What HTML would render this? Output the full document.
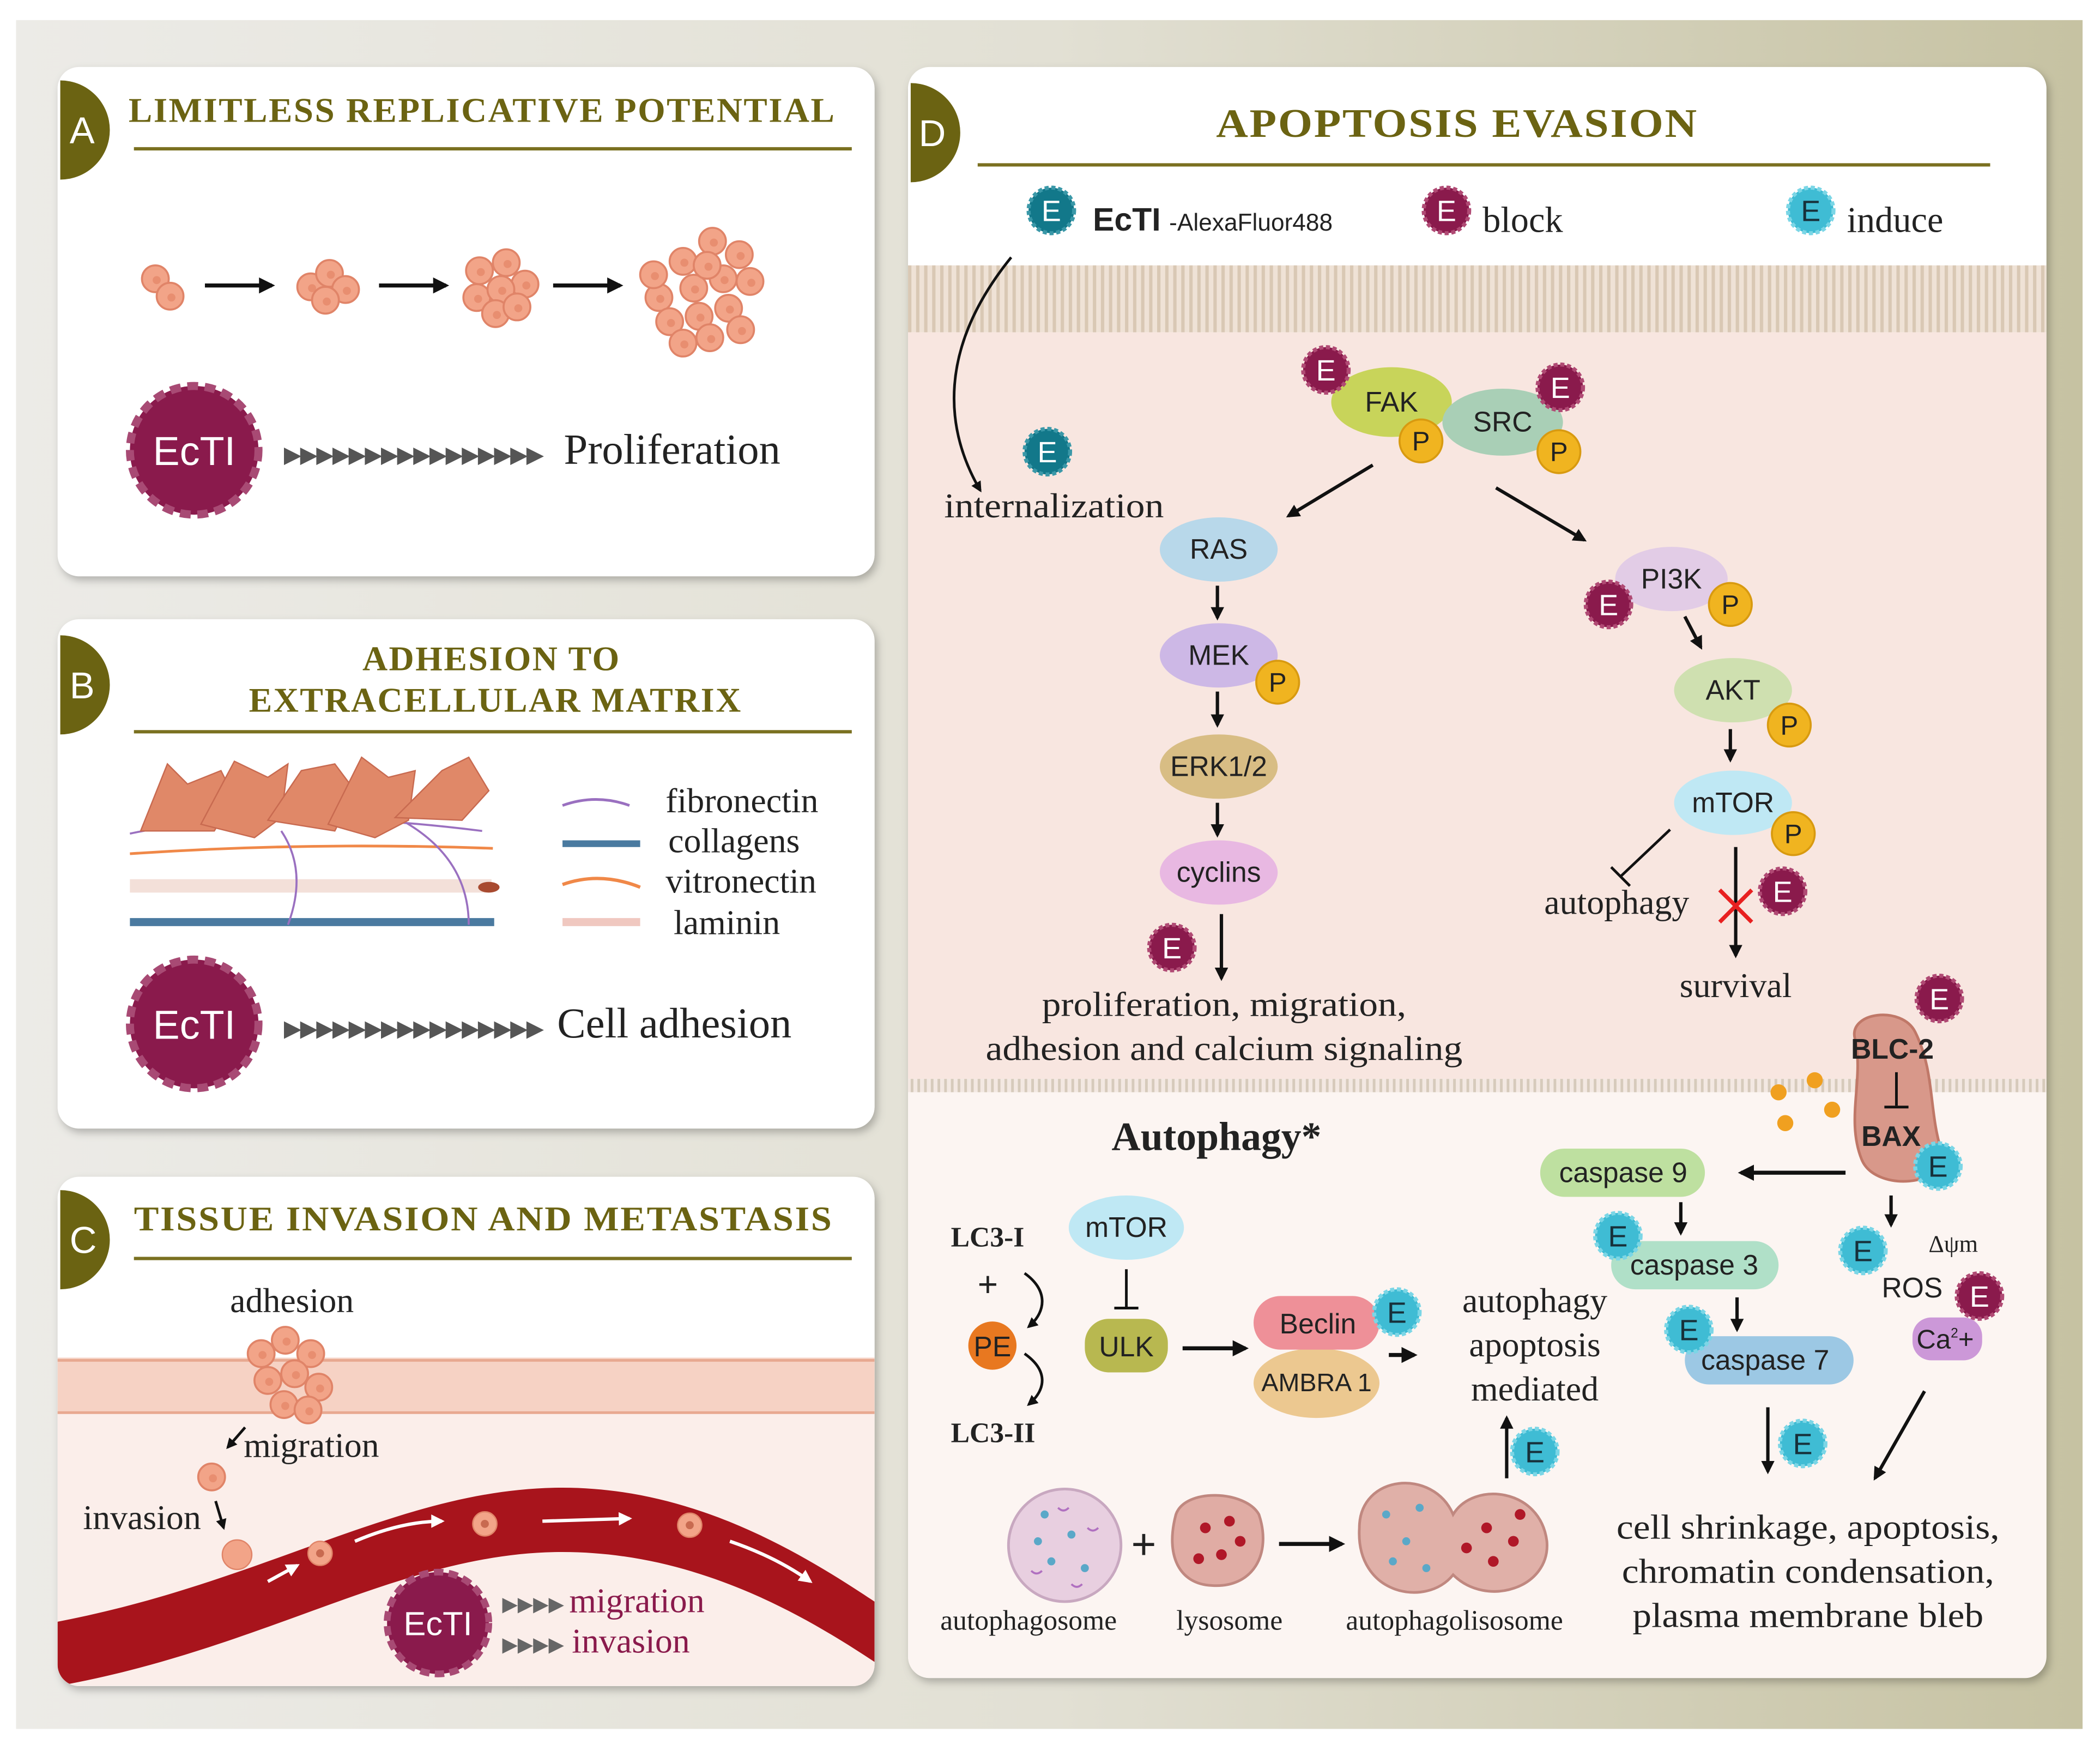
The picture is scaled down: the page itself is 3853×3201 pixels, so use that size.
<!DOCTYPE html>
<html><head><meta charset="utf-8"><style>
html,body{margin:0;padding:0;background:#fff;}
svg{display:block;}
.s{font-family:"Liberation Serif",serif;fill:#222;}
.a{font-family:"Liberation Sans",sans-serif;fill:#222;}
.t{font-family:"Liberation Serif",serif;font-weight:bold;fill:#6b6312;letter-spacing:1px;}
.eb{font-family:"Liberation Sans",sans-serif;fill:#fff;font-size:22px;text-anchor:middle;}
</style></head><body>
<svg width="3853" height="3201" viewBox="0 0 1568 1302" preserveAspectRatio="none" xmlns="http://www.w3.org/2000/svg">
<defs>
<linearGradient id="bg" x1="0" x2="1" y1="0" y2="0"><stop offset="0" stop-color="#ecebe7"/><stop offset="0.5" stop-color="#e2e0d4"/><stop offset="1" stop-color="#c6c2a2"/></linearGradient>
<filter id="sh" x="-5%" y="-5%" width="110%" height="110%"><feDropShadow dx="2" dy="3" stdDeviation="3" flood-color="#000" flood-opacity="0.25"/></filter>
<pattern id="stripe" width="6" height="50" patternUnits="userSpaceOnUse"><rect width="6" height="50" fill="#efe2d6"/><rect width="2.5" height="50" fill="#d9c8b4"/></pattern>
<pattern id="dots" width="5" height="10" patternUnits="userSpaceOnUse"><rect width="5" height="10" fill="#f3e8e2"/><rect width="2" height="10" fill="#d6cabb"/></pattern>
<g id="Eb"><circle r="17" fill="#8a1a4c" stroke="#b04a74" stroke-width="3" stroke-dasharray="3 2"/><text y="8" class="eb">E</text></g>
<g id="Ei"><circle r="17" fill="#3fbcd4" stroke="#7bd6e6" stroke-width="3" stroke-dasharray="3 2"/><text y="8" class="eb" style="fill:#17303a">E</text></g>
<g id="Et"><circle r="17" fill="#12788a" stroke="#3a98a8" stroke-width="3" stroke-dasharray="3 2"/><text y="8" class="eb">E</text></g>
<g id="P"><circle r="16" fill="#f0b420" stroke="#d89a10" stroke-width="1.5"/><text y="7" class="a" text-anchor="middle" font-size="20">P</text></g>
<g id="cell"><circle r="10" fill="#f2a488" stroke="#e08468" stroke-width="1.5"/><circle r="3" cx="1" cy="1" fill="#e88e70"/></g>
<g id="ecti"><circle r="48" fill="#8a1a4c" stroke="#a84a74" stroke-width="6" stroke-dasharray="8 5"/><text y="11" class="a" text-anchor="middle" font-size="30" style="fill:#fff">EcTI</text></g>
<g id="ecti2"><circle r="38" fill="#8a1a4c" stroke="#a84a74" stroke-width="5" stroke-dasharray="7 4"/><text y="9" class="a" text-anchor="middle" font-size="25" style="fill:#fff">EcTI</text></g>
<marker id="ar" viewBox="0 0 10 10" refX="8" refY="5" markerWidth="4" markerHeight="4" orient="auto"><path d="M0,0 L10,5 L0,10 z" fill="#111"/></marker>
<marker id="arw" viewBox="0 0 10 10" refX="8" refY="5" markerWidth="4" markerHeight="4" orient="auto"><path d="M0,0 L10,5 L0,10 z" fill="#fff"/></marker>
</defs>
<rect width="1568" height="1302" fill="#fff"/>
<rect x="12" y="15" width="1543" height="1275" fill="url(#bg)"/>

<!-- Panel A -->
<rect x="43" y="50" width="610" height="380" rx="16" fill="#fff" filter="url(#sh)"/>
<path d="M45,60 A37,37 0 0 1 45,134 Z" fill="#6b6312"/>
<text x="52" y="107" class="a" font-size="28" style="fill:#fff">A</text>
<text x="96" y="91" class="t" font-size="26" textLength="528" lengthAdjust="spacingAndGlyphs">LIMITLESS REPLICATIVE POTENTIAL</text>
<line x1="100" y1="111" x2="636" y2="111" stroke="#7a7020" stroke-width="2.5"/>
<use href="#cell" x="116" y="208"/><use href="#cell" x="127" y="221"/>
<line x1="153" y1="213" x2="203" y2="213" stroke="#111" stroke-width="3" marker-end="url(#ar)"/>
<use href="#cell" x="232" y="214"/><use href="#cell" x="246" y="204"/><use href="#cell" x="258" y="216"/><use href="#cell" x="243" y="224"/>
<line x1="283" y1="213" x2="333" y2="213" stroke="#111" stroke-width="3" marker-end="url(#ar)"/>
<g><use href="#cell" x="358" y="202"/><use href="#cell" x="378" y="196"/><use href="#cell" x="392" y="212"/><use href="#cell" x="356" y="222"/><use href="#cell" x="374" y="216"/><use href="#cell" x="370" y="234"/><use href="#cell" x="386" y="229"/></g>
<line x1="413" y1="213" x2="463" y2="213" stroke="#111" stroke-width="3" marker-end="url(#ar)"/>
<g><use href="#cell" x="492" y="222"/><use href="#cell" x="510" y="195"/><use href="#cell" x="532" y="180"/><use href="#cell" x="552" y="190"/><use href="#cell" x="560" y="210"/><use href="#cell" x="540" y="208"/><use href="#cell" x="518" y="215"/><use href="#cell" x="500" y="240"/><use href="#cell" x="522" y="236"/><use href="#cell" x="544" y="230"/><use href="#cell" x="530" y="252"/><use href="#cell" x="510" y="256"/><use href="#cell" x="553" y="246"/><use href="#cell" x="488" y="205"/><use href="#cell" x="528" y="198"/></g>
<use href="#ecti" x="145" y="336"/>
<text x="212" y="345" class="a" font-size="17" style="fill:#555;letter-spacing:-1px">▶▶▶▶▶▶▶▶▶▶▶▶▶▶▶▶</text>
<text x="421" y="346" class="s" font-size="32">Proliferation</text>

<!-- Panel B -->
<rect x="43" y="462" width="610" height="380" rx="16" fill="#fff" filter="url(#sh)"/>
<path d="M45,474 A37,37 0 0 1 45,548 Z" fill="#6b6312"/>
<text x="52" y="521" class="a" font-size="28" style="fill:#fff">B</text>
<text x="367" y="500" class="t" font-size="26" text-anchor="middle">ADHESION TO</text>
<text x="370" y="531" class="t" font-size="26" text-anchor="middle">EXTRACELLULAR MATRIX</text>
<line x1="100" y1="546" x2="636" y2="546" stroke="#7a7020" stroke-width="2.5"/>
<rect x="97" y="685" width="272" height="6" fill="#4a7aa0"/>
<rect x="97" y="656" width="270" height="10" fill="#f0d8d0" opacity="0.8"/>
<path d="M97,637 Q230,628 368,633" stroke="#f08848" stroke-width="2" fill="none"/>
<path d="M97,622 Q200,600 360,620 M210,620 Q230,650 215,690 M300,612 Q350,640 350,690" stroke="#9a70c0" stroke-width="1.5" fill="none"/>
<ellipse cx="365" cy="662" rx="8" ry="4" fill="#a84a30"/>
<g fill="#e08868" stroke="#c86a50" stroke-width="1">
<path d="M105,620 L125,570 L140,585 L165,575 L175,595 L160,620 Z"/>
<path d="M150,615 L175,568 L200,580 L215,570 L210,610 L190,625 Z"/>
<path d="M200,612 L225,575 L250,570 L265,590 L250,620 Z"/>
<path d="M245,615 L270,565 L290,580 L310,575 L305,612 L280,625 Z"/>
<path d="M295,610 L330,575 L350,565 L365,590 L345,612 Z"/>
</g>
<path d="M420,601 Q445,592 470,601" stroke="#9a70c0" stroke-width="2" fill="none"/>
<rect x="420" y="627" width="58" height="5" fill="#4a7aa0"/>
<path d="M420,660 Q448,650 478,662" stroke="#f08848" stroke-width="2.5" fill="none"/>
<rect x="420" y="685" width="58" height="6" fill="#f0c8c0"/>
<text x="497" y="606" class="s" font-size="26">fibronectin</text>
<text x="499" y="636" class="s" font-size="26">collagens</text>
<text x="497" y="666" class="s" font-size="26">vitronectin</text>
<text x="503" y="697" class="s" font-size="26">laminin</text>
<use href="#ecti" x="145" y="764"/>
<text x="212" y="773" class="a" font-size="17" style="fill:#555;letter-spacing:-1px">▶▶▶▶▶▶▶▶▶▶▶▶▶▶▶▶</text>
<text x="416" y="774" class="s" font-size="32">Cell adhesion</text>

<!-- Panel C -->
<clipPath id="cc"><rect x="43" y="878" width="610" height="380" rx="16"/></clipPath>
<rect x="43" y="878" width="610" height="380" rx="16" fill="#fff" filter="url(#sh)"/>
<g clip-path="url(#cc)">
<rect x="43" y="1013" width="610" height="245" fill="#fbeeea"/>
<rect x="43" y="1013" width="610" height="42" fill="#f6d2c4"/>
<line x1="43" y1="1015" x2="653" y2="1015" stroke="#e8a890" stroke-width="2"/>
<line x1="43" y1="1054" x2="653" y2="1054" stroke="#e8a890" stroke-width="2"/>
<path d="M43,1210 C200,1180 300,1110 420,1110 C520,1110 600,1160 653,1195 L653,1240 C600,1205 520,1158 420,1158 C300,1158 200,1230 43,1258 Z" fill="#a8141c"/>
</g>
<path d="M45,888 A37,37 0 0 1 45,962 Z" fill="#6b6312"/>
<text x="52" y="935" class="a" font-size="28" style="fill:#fff">C</text>
<text x="100" y="918" class="t" font-size="26" textLength="522" lengthAdjust="spacingAndGlyphs">TISSUE INVASION AND METASTASIS</text>
<line x1="100" y1="939" x2="636" y2="939" stroke="#7a7020" stroke-width="2.5"/>
<text x="218" y="979" class="s" font-size="26" text-anchor="middle">adhesion</text>
<g><use href="#cell" x="195" y="1010"/><use href="#cell" x="213" y="1000"/><use href="#cell" x="232" y="1010"/><use href="#cell" x="200" y="1030"/><use href="#cell" x="220" y="1025"/><use href="#cell" x="238" y="1035"/><use href="#cell" x="212" y="1048"/><use href="#cell" x="230" y="1052"/></g>
<path d="M183,1065 L170,1080" stroke="#111" stroke-width="2" marker-end="url(#ar)"/>
<text x="182" y="1087" class="s" font-size="26">migration</text>
<use href="#cell" x="158" y="1102"/>
<text x="62" y="1141" class="s" font-size="26">invasion</text>
<path d="M161,1120 L167,1140" stroke="#111" stroke-width="2" marker-end="url(#ar)"/>
<circle cx="177" cy="1160" r="11" fill="#f2a488" stroke="#e08468"/>
<g fill="#f2a488" stroke="#e08468"><circle cx="239" cy="1159" r="9"/><circle cx="362" cy="1137" r="9"/><circle cx="515" cy="1138" r="9"/></g>
<g fill="#c86a50"><circle cx="239" cy="1159" r="3"/><circle cx="362" cy="1137" r="3"/><circle cx="515" cy="1138" r="3"/></g>
<g stroke="#fff" stroke-width="2.5" fill="none" marker-end="url(#arw)">
<path d="M200,1180 L222,1168"/><path d="M265,1150 Q300,1135 330,1135"/><path d="M405,1135 L470,1133"/><path d="M545,1150 Q580,1162 605,1180"/></g>
<use href="#ecti2" x="327" y="1211"/>
<text x="375" y="1202" class="a" font-size="15" style="fill:#666">▶▶▶▶</text>
<text x="375" y="1232" class="a" font-size="15" style="fill:#666">▶▶▶▶</text>
<text x="425" y="1203" class="s" font-size="26" style="fill:#8a1a4c">migration</text>
<text x="427" y="1233" class="s" font-size="26" style="fill:#8a1a4c">invasion</text>

<!-- Panel D -->
<clipPath id="dc"><rect x="678" y="50" width="850" height="1202" rx="16"/></clipPath>
<rect x="678" y="50" width="850" height="1202" rx="16" fill="#fff" filter="url(#sh)"/>
<g clip-path="url(#dc)">
<rect x="678" y="198" width="850" height="50" fill="url(#stripe)"/>
<rect x="678" y="248" width="850" height="557" fill="#f8e6e0"/>
<rect x="678" y="805" width="850" height="10" fill="url(#dots)"/>
<rect x="678" y="815" width="850" height="437" fill="#fcf5f2"/>
</g>
<path d="M680,62 A37,37 0 0 1 680,136 Z" fill="#6b6312"/>
<text x="686" y="109" class="a" font-size="28" style="fill:#fff">D</text>
<text x="908" y="102" class="t" font-size="30" textLength="360" lengthAdjust="spacingAndGlyphs">APOPTOSIS  EVASION</text>
<line x1="730" y1="123" x2="1486" y2="123" stroke="#7a7020" stroke-width="2.5"/>
<use href="#Et" x="785" y="157"/>
<text x="816" y="172" class="a" font-size="24" font-weight="bold">EcTI</text><text x="873" y="172" class="a" font-size="18">-AlexaFluor488</text>
<use href="#Eb" x="1080" y="157"/><text x="1107" y="173" class="s" font-size="27">block</text>
<use href="#Ei" x="1352" y="157"/><text x="1379" y="173" class="s" font-size="27">induce</text>
<path d="M755,192 C700,260 705,320 732,366" stroke="#111" stroke-width="2" fill="none" marker-end="url(#ar)"/>
<use href="#Et" x="782" y="337"/>
<text x="705" y="386" class="s" font-size="26" textLength="164" lengthAdjust="spacingAndGlyphs">internalization</text>

<!-- FAK/SRC -->
<ellipse cx="1039" cy="300" rx="45" ry="26" fill="#c8d45a"/><text x="1039" y="307" class="a" font-size="21" text-anchor="middle">FAK</text>
<ellipse cx="1122" cy="315" rx="45" ry="25" fill="#a9cfb6"/><text x="1122" y="322" class="a" font-size="21" text-anchor="middle">SRC</text>
<use href="#P" x="1061" y="329"/><use href="#P" x="1164" y="337"/>
<use href="#Eb" x="990" y="276"/><use href="#Eb" x="1165" y="289"/>
<line x1="1025" y1="347" x2="962" y2="385" stroke="#111" stroke-width="2.5" marker-end="url(#ar)"/>
<line x1="1117" y1="364" x2="1183" y2="403" stroke="#111" stroke-width="2.5" marker-end="url(#ar)"/>
<!-- left chain -->
<ellipse cx="910" cy="410" rx="44" ry="24" fill="#b8d8ea"/><text x="910" y="417" class="a" font-size="21" text-anchor="middle">RAS</text>
<line x1="909" y1="437" x2="909" y2="461" stroke="#111" stroke-width="2.5" marker-end="url(#ar)"/>
<ellipse cx="910" cy="489" rx="44" ry="24" fill="#cdb8e6"/><text x="910" y="496" class="a" font-size="21" text-anchor="middle">MEK</text>
<use href="#P" x="954" y="509"/>
<line x1="909" y1="516" x2="909" y2="541" stroke="#111" stroke-width="2.5" marker-end="url(#ar)"/>
<ellipse cx="910" cy="572" rx="44" ry="24" fill="#d8bd84"/><text x="910" y="579" class="a" font-size="21" text-anchor="middle">ERK1/2</text>
<line x1="909" y1="599" x2="909" y2="623" stroke="#111" stroke-width="2.5" marker-end="url(#ar)"/>
<ellipse cx="910" cy="651" rx="44" ry="24" fill="#e8b8e2"/><text x="910" y="658" class="a" font-size="21" text-anchor="middle">cyclins</text>
<line x1="912" y1="682" x2="912" y2="730" stroke="#111" stroke-width="2.5" marker-end="url(#ar)"/>
<use href="#Eb" x="875" y="707"/>
<text x="914" y="758" class="s" font-size="26" text-anchor="middle" textLength="272" lengthAdjust="spacingAndGlyphs">proliferation, migration,</text>
<text x="914" y="791" class="s" font-size="26" text-anchor="middle" textLength="356" lengthAdjust="spacingAndGlyphs">adhesion and calcium signaling</text>
<!-- right chain -->
<ellipse cx="1248" cy="432" rx="42" ry="24" fill="#e2cce6"/><text x="1248" y="439" class="a" font-size="21" text-anchor="middle">PI3K</text>
<use href="#P" x="1292" y="451"/><use href="#Eb" x="1201" y="451"/>
<line x1="1258" y1="460" x2="1270" y2="483" stroke="#111" stroke-width="2.5" marker-end="url(#ar)"/>
<ellipse cx="1294" cy="515" rx="44" ry="24" fill="#cfe0b0"/><text x="1294" y="522" class="a" font-size="21" text-anchor="middle">AKT</text>
<use href="#P" x="1336" y="541"/>
<line x1="1292" y1="544" x2="1292" y2="567" stroke="#111" stroke-width="2.5" marker-end="url(#ar)"/>
<ellipse cx="1294" cy="599" rx="44" ry="24" fill="#bfe8f4"/><text x="1294" y="606" class="a" font-size="21" text-anchor="middle">mTOR</text>
<use href="#P" x="1339" y="622"/>
<line x1="1247" y1="619" x2="1210" y2="654" stroke="#111" stroke-width="2"/>
<line x1="1203" y1="647" x2="1217" y2="661" stroke="#111" stroke-width="2"/>
<text x="1153" y="682" class="s" font-size="26">autophagy</text>
<line x1="1296" y1="632" x2="1296" y2="713" stroke="#111" stroke-width="2.5" marker-end="url(#ar)"/>
<path d="M1284,664 L1308,688 M1308,664 L1284,688" stroke="#e82020" stroke-width="3"/>
<use href="#Eb" x="1331" y="665"/>
<text x="1296" y="744" class="s" font-size="26" text-anchor="middle">survival</text>

<!-- mitochondria -->
<path d="M1385,775 C1380,755 1420,750 1430,770 C1445,800 1440,830 1450,860 C1455,885 1400,890 1390,865 C1378,835 1392,805 1385,775 Z" fill="#d8988a" stroke="#c07868" stroke-width="2"/>
<use href="#Eb" x="1448" y="745"/>
<text x="1413" y="790" class="a" font-size="21" font-weight="bold" text-anchor="middle">BLC-2</text>
<line x1="1416" y1="800" x2="1416" y2="825" stroke="#111" stroke-width="2"/><line x1="1407" y1="826" x2="1425" y2="826" stroke="#111" stroke-width="2"/>
<text x="1412" y="855" class="a" font-size="21" font-weight="bold" text-anchor="middle">BAX</text>
<use href="#Ei" x="1447" y="870"/>
<g fill="#f0a020"><circle cx="1328" cy="815" r="6"/><circle cx="1355" cy="806" r="6"/><circle cx="1368" cy="828" r="6"/><circle cx="1333" cy="838" r="6"/></g>

<text x="830" y="858" class="s" font-size="30" font-weight="bold">Autophagy*</text>
<text x="710" y="930" class="s" font-size="21" font-weight="bold">LC3-I</text>
<text x="730" y="967" class="a" font-size="26">+</text>
<path d="M765,950 C782,962 782,978 768,990" stroke="#111" stroke-width="2" fill="none" marker-end="url(#ar)"/>
<circle cx="741" cy="1004" r="18" fill="#e87820"/><text x="741" y="1012" class="a" font-size="21" text-anchor="middle">PE</text>
<path d="M765,1010 C782,1022 782,1036 768,1048" stroke="#111" stroke-width="2" fill="none" marker-end="url(#ar)"/>
<text x="710" y="1076" class="s" font-size="21" font-weight="bold">LC3-II</text>
<ellipse cx="841" cy="916" rx="43" ry="24" fill="#bfe8f4"/><text x="841" y="923" class="a" font-size="21" text-anchor="middle">mTOR</text>
<line x1="841" y1="947" x2="841" y2="975" stroke="#111" stroke-width="2"/><line x1="832" y1="976" x2="850" y2="976" stroke="#111" stroke-width="2"/>
<rect x="810" y="984" width="62" height="40" rx="18" fill="#b8b850"/><text x="841" y="1012" class="a" font-size="21" text-anchor="middle">ULK</text>
<line x1="883" y1="1006" x2="930" y2="1006" stroke="#111" stroke-width="3" marker-end="url(#ar)"/>
<ellipse cx="983" cy="1032" rx="47" ry="26" fill="#ecc890"/><text x="983" y="1038" class="a" font-size="19" text-anchor="middle">AMBRA 1</text>
<rect x="936" y="967" width="94" height="40" rx="20" fill="#ee9098"/><text x="984" y="995" class="a" font-size="21" text-anchor="middle">Beclin</text>
<use href="#Ei" x="1043" y="979"/>
<line x1="1037" y1="1011" x2="1056" y2="1011" stroke="#111" stroke-width="3" marker-end="url(#ar)"/>
<text x="1146" y="979" class="s" font-size="26" text-anchor="middle">autophagy</text>
<text x="1146" y="1012" class="s" font-size="26" text-anchor="middle">apoptosis</text>
<text x="1146" y="1045" class="s" font-size="26" text-anchor="middle">mediated</text>
<line x1="1125" y1="1103" x2="1125" y2="1058" stroke="#111" stroke-width="2.5" marker-end="url(#ar)"/>
<use href="#Ei" x="1146" y="1083"/>
<!-- vesicles -->
<circle cx="795" cy="1153" r="42" fill="#e8cfe0" stroke="#c8a8c0" stroke-width="2"/>
<g fill="#5aa8c8"><circle cx="780" cy="1130" r="3"/><circle cx="800" cy="1145" r="3"/><circle cx="785" cy="1165" r="3"/><circle cx="810" cy="1170" r="3"/><circle cx="775" cy="1150" r="3"/></g>
<g stroke="#b070c0" stroke-width="1.5" fill="none"><path d="M790,1125 q4,4 8,0"/><path d="M812,1140 q4,4 8,0"/><path d="M770,1172 q4,4 8,0"/><path d="M800,1182 q4,4 8,0"/></g>
<text x="854" y="1163" class="a" font-size="32" text-anchor="middle">+</text>
<path d="M878,1130 C885,1110 930,1112 940,1130 C950,1160 935,1185 905,1183 C880,1182 870,1160 878,1130 Z" fill="#e0aca4" stroke="#c08880" stroke-width="2"/>
<g fill="#b01828"><circle cx="900" cy="1140" r="4"/><circle cx="918" cy="1135" r="4"/><circle cx="912" cy="1160" r="4"/><circle cx="895" cy="1163" r="4"/><circle cx="926" cy="1150" r="4"/></g>
<line x1="955" y1="1152" x2="1002" y2="1152" stroke="#111" stroke-width="3" marker-end="url(#ar)"/>
<path d="M1015,1140 C1015,1100 1070,1095 1085,1130 C1100,1105 1150,1110 1155,1150 C1158,1185 1110,1200 1085,1175 C1065,1200 1012,1190 1015,1140 Z" fill="#e0b0a8" stroke="#c08880" stroke-width="2"/>
<g fill="#5aa8c8"><circle cx="1035" cy="1130" r="3"/><circle cx="1050" cy="1150" r="3"/><circle cx="1040" cy="1165" r="3"/><circle cx="1060" cy="1125" r="3"/><circle cx="1065" cy="1170" r="3"/></g>
<g fill="#b01828"><circle cx="1110" cy="1140" r="4"/><circle cx="1130" cy="1150" r="4"/><circle cx="1115" cy="1165" r="4"/><circle cx="1095" cy="1155" r="4"/><circle cx="1135" cy="1130" r="4"/></g>
<text x="768" y="1216" class="s" font-size="21" text-anchor="middle">autophagosome</text>
<text x="918" y="1216" class="s" font-size="21" text-anchor="middle">lysosome</text>
<text x="1086" y="1216" class="s" font-size="21" text-anchor="middle">autophagolisosome</text>
<!-- caspases -->
<rect x="1150" y="857" width="123" height="36" rx="18" fill="#bee0a0"/><text x="1212" y="882" class="a" font-size="21" text-anchor="middle">caspase 9</text>
<line x1="1378" y1="875" x2="1300" y2="875" stroke="#111" stroke-width="3" marker-end="url(#ar)"/>
<line x1="1255" y1="897" x2="1255" y2="920" stroke="#111" stroke-width="2.5" marker-end="url(#ar)"/>
<rect x="1203" y="926" width="125" height="36" rx="18" fill="#b0e0c8"/><text x="1265" y="951" class="a" font-size="21" text-anchor="middle">caspase 3</text>
<use href="#Ei" x="1208" y="922"/>
<line x1="1297" y1="968" x2="1297" y2="992" stroke="#111" stroke-width="2.5" marker-end="url(#ar)"/>
<rect x="1258" y="997" width="126" height="36" rx="18" fill="#9cc8e4"/><text x="1318" y="1022" class="a" font-size="21" text-anchor="middle">caspase 7</text>
<use href="#Ei" x="1261" y="992"/>
<line x1="1320" y1="1050" x2="1320" y2="1098" stroke="#111" stroke-width="2.5" marker-end="url(#ar)"/>
<use href="#Ei" x="1346" y="1077"/>
<line x1="1412" y1="892" x2="1412" y2="914" stroke="#111" stroke-width="2.5" marker-end="url(#ar)"/>
<use href="#Ei" x="1391" y="933"/>
<text x="1440" y="934" class="s" font-size="18">Δψm</text>
<text x="1405" y="968" class="a" font-size="21">ROS</text>
<use href="#Eb" x="1478" y="967"/>
<rect x="1428" y="983" width="52" height="32" rx="14" fill="#cc98d8"/><text x="1431" y="1006" class="a" font-size="20">Ca<tspan font-size="10" dy="-8">2</tspan><tspan dy="8">+</tspan></text>
<line x1="1437" y1="1038" x2="1400" y2="1103" stroke="#111" stroke-width="2.5" marker-end="url(#ar)"/>
<text x="1350" y="1148" class="s" font-size="26" text-anchor="middle" textLength="286" lengthAdjust="spacingAndGlyphs">cell shrinkage, apoptosis,</text>
<text x="1350" y="1181" class="s" font-size="26" text-anchor="middle" textLength="278" lengthAdjust="spacingAndGlyphs">chromatin condensation,</text>
<text x="1350" y="1214" class="s" font-size="26" text-anchor="middle" textLength="262" lengthAdjust="spacingAndGlyphs">plasma membrane bleb</text>
</svg>
</body></html>
